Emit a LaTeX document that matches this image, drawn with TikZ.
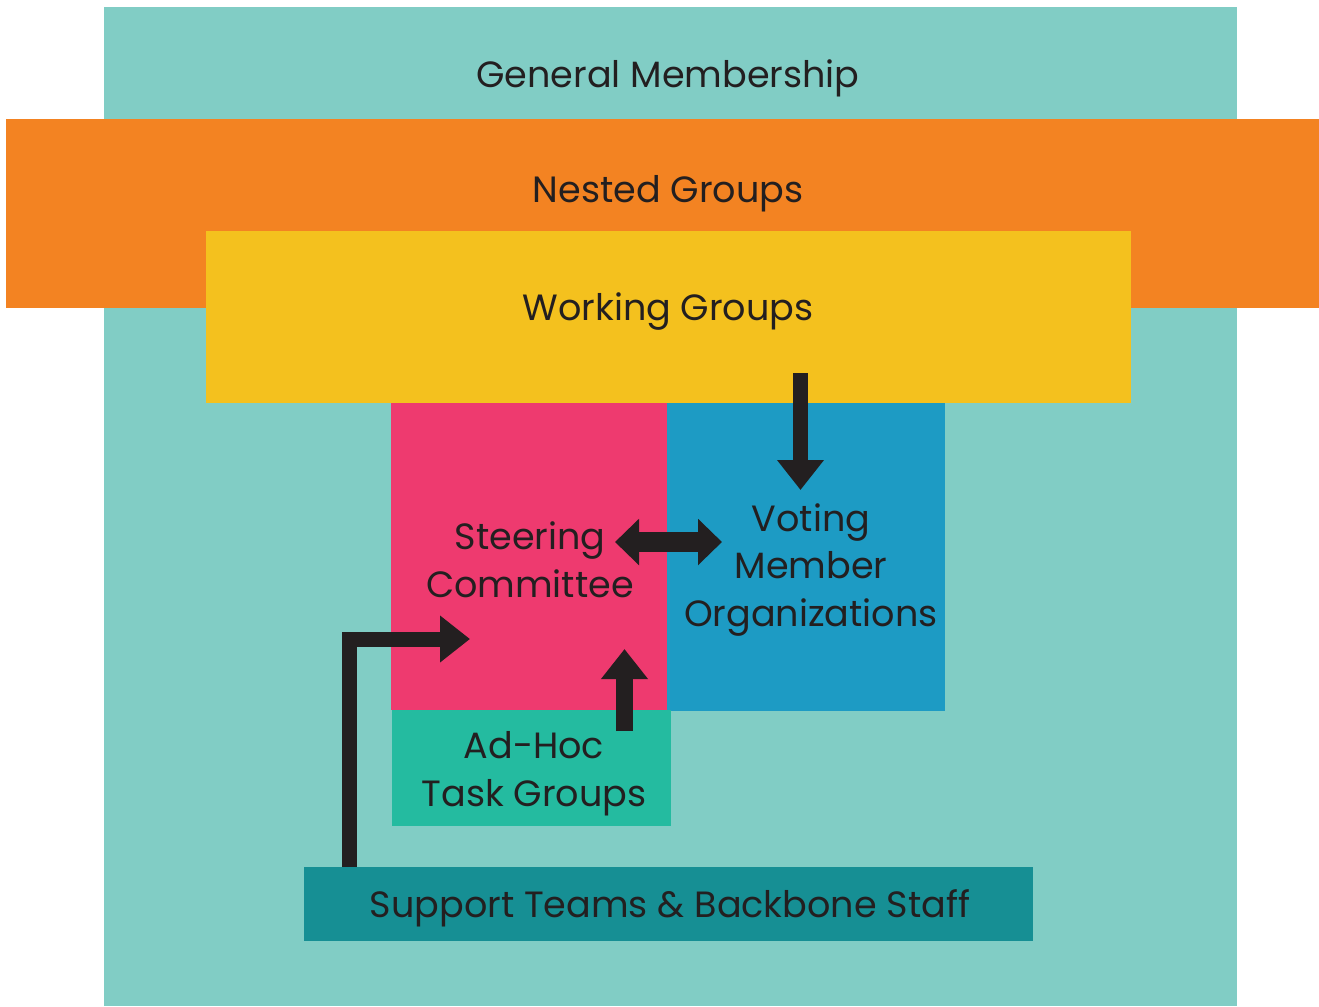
\documentclass[tikz,border=0pt]{standalone}
\usepackage{fontspec}
\setmainfont{Poppins}
\usetikzlibrary{arrows.meta}
\definecolor{gmteal}{HTML}{81CDC5}
\definecolor{ngorange}{HTML}{F38322}
\definecolor{wgyellow}{HTML}{F4C11E}
\definecolor{scpink}{HTML}{EE3A6F}
\definecolor{vmblue}{HTML}{1D9BC4}
\definecolor{ahgreen}{HTML}{24BBA0}
\definecolor{stteal}{HTML}{168F94}
\definecolor{ink}{HTML}{231F20}
\begin{document}
\begin{tikzpicture}[
    box/.style={rectangle, inner sep=0pt, outer sep=0pt},
    lbl/.style={text=ink, align=center, font=\fontsize{10.4}{13.6}\selectfont},
    flow/.style={draw=ink, line width=0.155cm, line join=miter,
        -{Triangle[width=0.45cm, length=0.3cm]}},
    both/.style={draw=ink, line width=0.2cm,
        {Triangle[width=0.45cm, length=0.24cm]}-{Triangle[width=0.45cm, length=0.24cm]}}
    ]
    \useasboundingbox (0,0) rectangle (13.19,10.06);

    % layers, back to front
    \node[box, fill=gmteal, minimum width=11.33cm, minimum height=9.99cm] (gm) at (6.705,4.995) {};
    \node[box, fill=ngorange, minimum width=13.13cm, minimum height=1.89cm] (ng) at (6.625,7.925) {};
    \node[box, fill=wgyellow, minimum width=9.25cm, minimum height=1.72cm] (wg) at (6.685,6.89) {};
    \node[box, fill=scpink, minimum width=2.76cm, minimum height=3.07cm] (sc) at (5.29,4.495) {};
    \node[box, fill=vmblue, minimum width=2.78cm, minimum height=3.08cm] (vm) at (8.06,4.49) {};
    \node[box, fill=ahgreen, minimum width=2.79cm, minimum height=1.16cm] (ah) at (5.315,2.38) {};
    \node[box, fill=stteal, minimum width=7.29cm, minimum height=0.74cm] (st) at (6.685,1.02) {};

    % labels
    \node[lbl] (gmtext) at (6.68,9.28) {General Membership};
    \node[lbl] (ngtext) at (6.68,8.12) {Nested Groups};
    \node[lbl] (wgtext) at (6.68,6.94) {Working Groups};
    \node[lbl] (sctext) at (5.30,4.46) {Steering\\Committee};
    \node[lbl] (vmtext) at (8.11,4.36) {Voting\\Member\\Organizations};
    \node[lbl] (ahtext) at (5.34,2.32) {Ad-Hoc\\Task Groups};
    \node[lbl] (sttext) at (6.70,0.98) {Support Teams \& Backbone Staff};

    % arrows
    \coordinate (wgout) at (8.005,6.33);
    \coordinate (vmin) at (8.005,5.16);
    \coordinate (scright) at (6.15,4.64);
    \coordinate (vmleft) at (7.22,4.64);
    \coordinate (ahout) at (6.245,2.75);
    \coordinate (scin) at (6.245,3.57);
    \coordinate (stout) at (3.49,1.39);
    \coordinate (scleft) at (4.70,3.67);

    \draw[flow] (wgout) -- (vmin);
    \draw[both] (scright) -- (vmleft);
    \draw[flow, line width=0.17cm] (ahout) -- (scin);
    \draw[flow, line width=0.15cm] (stout) |- (scleft);
\end{tikzpicture}
\end{document}
